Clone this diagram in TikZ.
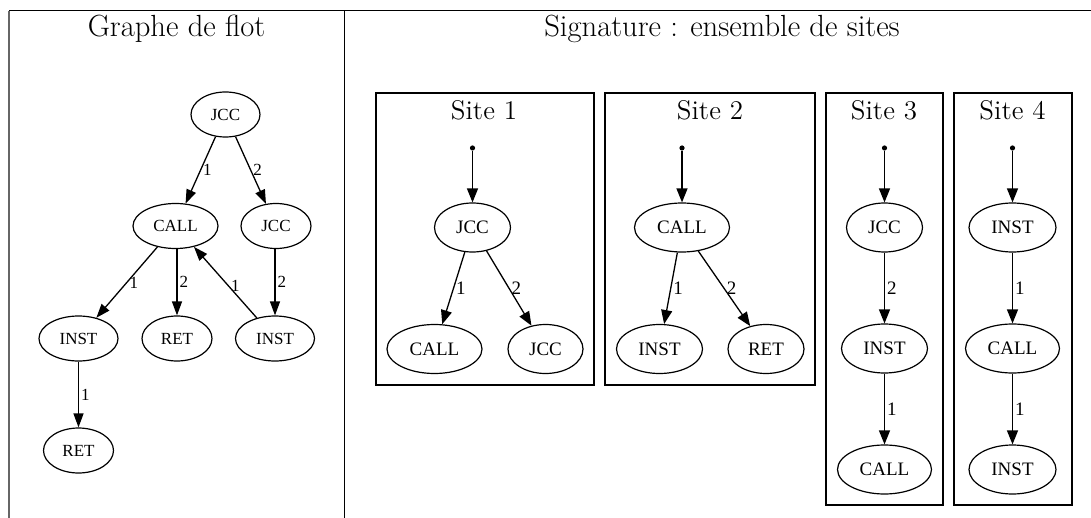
\documentclass[tikz,border=0pt]{standalone}
\usepackage{fontspec}
\usetikzlibrary{shapes.geometric,arrows.meta}
\newfontfamily\gvfont{Liberation Serif}
\begin{document}
\begin{tikzpicture}[x=0.5pt,y=-0.5pt,
  gnode/.style={ellipse,draw,line width=0.6pt,inner sep=0pt,minimum height=22.5pt,font=\gvfont\fontsize{8.5}{10}\selectfont},
  snode/.style={ellipse,draw,line width=0.6pt,inner sep=0pt,minimum height=24.5pt,font=\gvfont\fontsize{9.5}{11}\selectfont},
  garr/.style={line width=0.65pt,-{Triangle[length=7pt,width=5pt]}},
  sarr/.style={line width=0.65pt,-{Triangle[length=7pt,width=5.5pt]}},
  glab/.style={midway,right,inner sep=1pt,font=\gvfont\fontsize{8.5}{10}\selectfont},
  slab/.style={midway,right,inner sep=1pt,font=\gvfont\fontsize{9.5}{11}\selectfont},
  title/.style={anchor=base,inner sep=0pt,font=\fontsize{15.3}{18}\selectfont},
  stitle/.style={anchor=base,inner sep=0pt,font=\fontsize{13.5}{16}\selectfont},
  sbox/.style={draw,line width=0.55pt},
  entry/.style={circle,fill,inner sep=0pt,minimum size=2.6pt},
  rule/.style={line width=0.5pt}
]
\useasboundingbox (0,0) rectangle (1091,518);
% table rules
\coordinate (tl) at (9,11);
\coordinate (tr) at (1091,11);
\coordinate (bl) at (9,518);
\coordinate (tm) at (344,11);
\coordinate (bm) at (344,518);
\draw[rule] (tl) -- (tr);
\draw[rule,black!60,line width=0.9pt] (tl) -- (bl);
\draw[rule] (tm) -- (bm);
% titles
\node[title] (t1) at (176.5,37) {Graphe de flot};
\node[title] (t2) at (722,37) {Signature : ensemble de sites};

% left graph
\node[gnode,minimum width=34.5pt] (g1) at (225.5,114.5) {JCC};
\node[gnode,minimum width=42.5pt] (g2) at (175.5,226) {CALL};
\node[gnode,minimum width=35pt] (g3) at (276,226) {JCC};
\node[gnode,minimum width=39.5pt] (g4) at (78.5,338.5) {INST};
\node[gnode,minimum width=35pt] (g5) at (177,338.5) {RET};
\node[gnode,minimum width=39.5pt] (g6) at (275,338.5) {INST};
\node[gnode,minimum width=35pt] (g7) at (78.5,450.5) {RET};
\draw[garr] (g1) -- node[glab] {1} (g2);
\draw[garr] (g1) -- node[glab] {2} (g3);
\draw[garr] (g2) -- node[glab] {1} (g4);
\draw[garr] (g2.south -| g5) -- node[glab] {2} (g5);
\draw[garr] (g6) -- node[glab,pos=0.45] {1} (g2);
\draw[garr] (g3.south -| g6) -- node[glab] {2} (g6);
\draw[garr] (g4) -- node[glab] {1} (g7);

% Site 1
\node[sbox,minimum width=109pt,minimum height=146pt,inner sep=0pt] (b1) at (485,239) {};
\node[stitle] (s1t) at (484,120) {Site 1};
\node[entry] (s1e) at (472.5,148) {};
\node[snode,minimum width=38pt] (s1a) at (472.5,227.5) {JCC};
\node[snode,minimum width=47.5pt] (s1b) at (434.5,349) {CALL};
\node[snode,minimum width=37.5pt] (s1c) at (545.5,349) {JCC};
\draw[sarr] (s1e) -- (s1a);
\draw[sarr] (s1a) -- node[slab] {1} (s1b);
\draw[sarr] (s1a) -- node[slab] {2} (s1c);

% Site 2
\node[sbox,minimum width=105pt,minimum height=146pt,inner sep=0pt] (b2) at (710,239) {};
\node[stitle] (s2t) at (710,120) {Site 2};
\node[entry] (s2e) at (682,148) {};
\node[snode,minimum width=47.5pt] (s2a) at (682,227.5) {CALL};
\node[snode,minimum width=43pt] (s2b) at (659.5,349) {INST};
\node[snode,minimum width=38pt] (s2c) at (766,349) {RET};
\draw[sarr] (s2e) -- (s2a);
\draw[sarr] (s2a) -- node[slab] {1} (s2b);
\draw[sarr] (s2a) -- node[slab] {2} (s2c);

% Site 3
\node[sbox,minimum width=58.5pt,minimum height=206pt,inner sep=0pt] (b3) at (884.5,299) {};
\node[stitle] (s3t) at (884,120) {Site 3};
\node[entry] (s3e) at (884.5,148) {};
\node[snode,minimum width=38pt] (s3a) at (884.5,227.5) {JCC};
\node[snode,minimum width=43pt] (s3b) at (884.5,348.5) {INST};
\node[snode,minimum width=47pt] (s3c) at (884.5,469.5) {CALL};
\draw[sarr] (s3e) -- (s3a);
\draw[sarr] (s3a) -- node[slab] {2} (s3b);
\draw[sarr] (s3b) -- node[slab] {1} (s3c);

% Site 4
\node[sbox,minimum width=59pt,minimum height=206pt,inner sep=0pt] (b4) at (1013,299) {};
\node[stitle] (s4t) at (1012.5,120) {Site 4};
\node[entry] (s4e) at (1012.5,148) {};
\node[snode,minimum width=43.5pt] (s4a) at (1012.5,227.5) {INST};
\node[snode,minimum width=47pt] (s4b) at (1012.5,348.5) {CALL};
\node[snode,minimum width=43.5pt] (s4c) at (1012.5,469.5) {INST};
\draw[sarr] (s4e) -- (s4a);
\draw[sarr] (s4a) -- node[slab] {1} (s4b);
\draw[sarr] (s4b) -- node[slab] {1} (s4c);
\end{tikzpicture}
\end{document}
